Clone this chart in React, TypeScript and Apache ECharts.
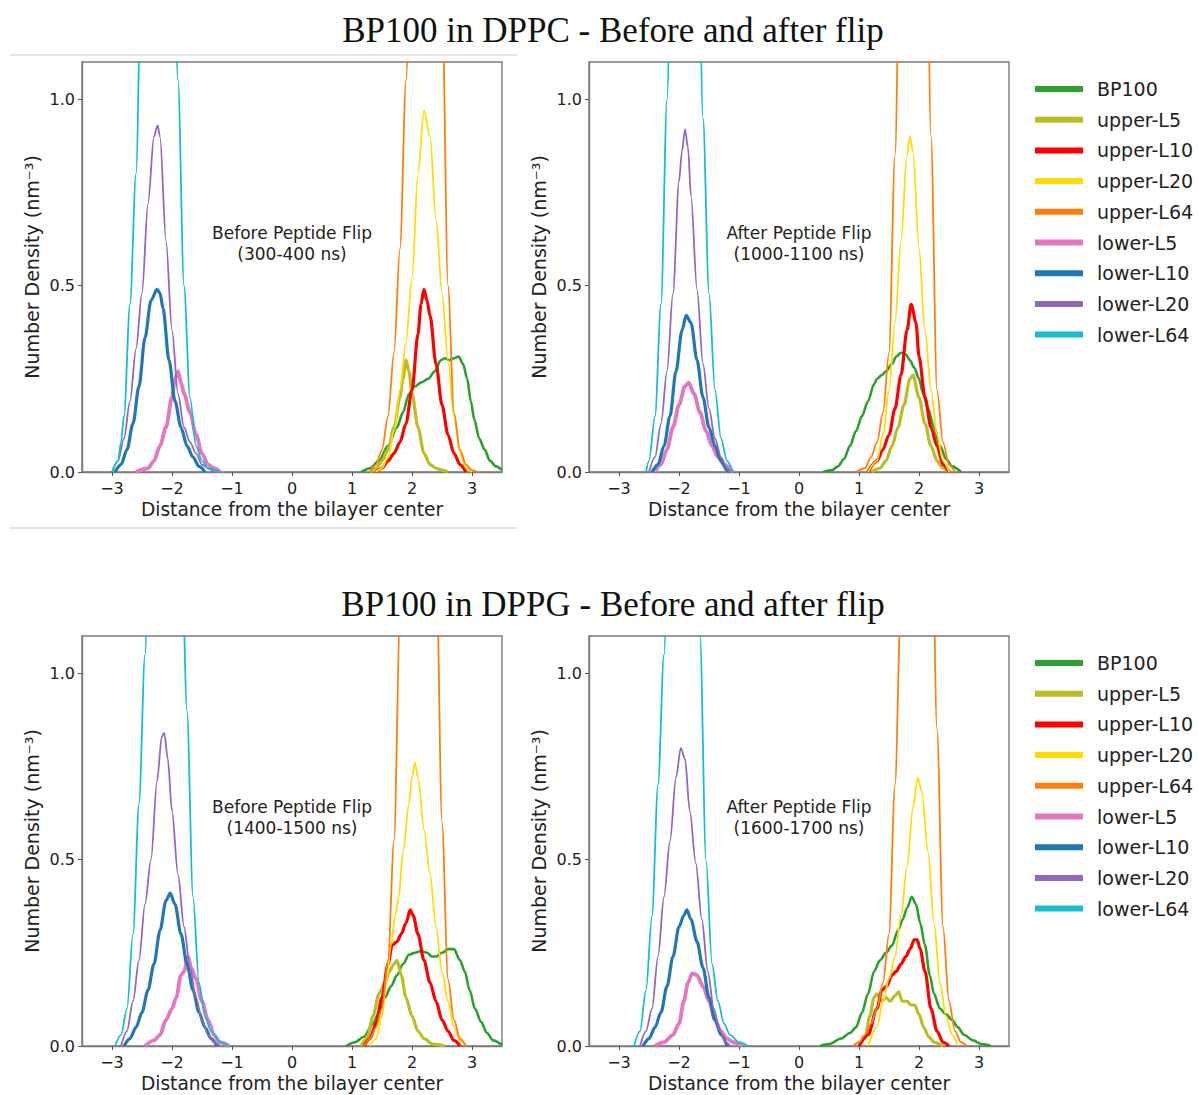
import React, { useEffect, useRef } from "react";
import * as echarts from "echarts";

const SERIES_NAMES = ["BP100", "upper-L5", "upper-L10", "upper-L20", "upper-L64", "lower-L5", "lower-L10", "lower-L20", "lower-L64"];
const SERIES_COLORS = ["#2ca02c", "#bcbd22", "#ff0000", "#ffdd00", "#ff7f0e", "#e377c2", "#1f77b4", "#9467bd", "#17becf"];
const SERIES_WIDTHS = [2.6, 3.2, 3.2, 1.8, 1.8, 3.8, 3.2, 1.8, 1.8];
const X_TICKS = [-3, -2, -1, 0, 1, 2, 3];
const Y_TICKS = [0, 0.5, 1.0];
const ROW_TITLES = ["BP100 in DPPC - Before and after flip", "BP100 in DPPG - Before and after flip"];
const NOTE_LINE1 = ["Before Peptide Flip", "After Peptide Flip", "Before Peptide Flip", "After Peptide Flip"];
const NOTE_LINE2 = ["(300-400 ns)", "(1000-1100 ns)", "(1400-1500 ns)", "(1600-1700 ns)"];

// Panel A: DPPC, before flip
const A_BP100 = [[1.15,0],[1.3,0.01],[1.45,0.03],[1.6,0.07],[1.75,0.12],[1.85,0.16],[1.95,0.21],[2.05,0.23],[2.15,0.24],[2.27,0.25],[2.38,0.27],[2.48,0.3],[2.55,0.305],[2.62,0.3],[2.7,0.305],[2.78,0.31],[2.85,0.29],[2.92,0.25],[2.98,0.19],[3.04,0.14],[3.12,0.09],[3.21,0.06],[3.3,0.03],[3.4,0.015],[3.5,0.005]];
const A_U5 = [[1.3,0],[1.4,0.01],[1.5,0.03],[1.6,0.06],[1.7,0.12],[1.8,0.2],[1.85,0.25],[1.9,0.3],[1.95,0.27],[2.0,0.21],[2.1,0.12],[2.2,0.05],[2.3,0.02],[2.4,0.01],[2.5,0.005],[2.6,0]];
const A_U10 = [[1.4,0],[1.5,0.01],[1.6,0.03],[1.7,0.05],[1.8,0.08],[1.9,0.13],[2.0,0.22],[2.1,0.37],[2.15,0.45],[2.2,0.49],[2.25,0.46],[2.3,0.42],[2.4,0.29],[2.5,0.18],[2.6,0.1],[2.7,0.05],[2.8,0.02],[2.9,0]];
const A_U20 = [[1.4,0],[1.5,0.01],[1.6,0.04],[1.7,0.11],[1.8,0.22],[1.9,0.35],[2.0,0.52],[2.1,0.8],[2.2,0.97],[2.3,0.9],[2.4,0.68],[2.5,0.48],[2.6,0.3],[2.7,0.15],[2.8,0.05],[2.9,0.01],[3.0,0]];
const A_U64 = [[1.3,0],[1.4,0.02],[1.5,0.06],[1.6,0.15],[1.7,0.32],[1.8,0.6],[1.9,1.05],[2.0,1.6],[2.1,2.1],[2.2,2.4],[2.3,2.3],[2.4,1.9],[2.5,1.3],[2.6,0.5],[2.7,0.16],[2.8,0.06],[2.9,0.02],[3.0,0.005],[3.1,0]];
const A_L5 = [[-2.6,0],[-2.4,0.01],[-2.3,0.03],[-2.2,0.07],[-2.1,0.12],[-2.0,0.2],[-1.95,0.25],[-1.9,0.27],[-1.85,0.24],[-1.8,0.21],[-1.7,0.16],[-1.6,0.1],[-1.5,0.05],[-1.4,0.02],[-1.3,0.01],[-1.2,0]];
const A_L10 = [[-2.95,0],[-2.85,0.02],[-2.75,0.06],[-2.65,0.13],[-2.55,0.23],[-2.45,0.36],[-2.35,0.46],[-2.25,0.49],[-2.2,0.48],[-2.15,0.44],[-2.05,0.3],[-1.95,0.19],[-1.85,0.12],[-1.75,0.07],[-1.65,0.04],[-1.55,0.015],[-1.45,0]];
const A_L20 = [[-3.0,0],[-2.9,0.03],[-2.8,0.09],[-2.7,0.19],[-2.6,0.33],[-2.5,0.48],[-2.4,0.72],[-2.3,0.9],[-2.24,0.93],[-2.2,0.9],[-2.1,0.62],[-2.0,0.38],[-1.9,0.21],[-1.8,0.12],[-1.7,0.08],[-1.6,0.05],[-1.5,0.02],[-1.4,0.01],[-1.3,0]];
const A_L64 = [[-3.0,0],[-2.9,0.03],[-2.85,0.08],[-2.8,0.15],[-2.7,0.45],[-2.6,0.8],[-2.5,1.45],[-2.4,2.1],[-2.3,2.5],[-2.2,2.6],[-2.1,2.3],[-2.0,1.7],[-1.9,1.05],[-1.8,0.5],[-1.7,0.2],[-1.6,0.07],[-1.5,0.03],[-1.4,0.01],[-1.2,0]];

// Panel B: DPPC, after flip
const B_BP100 = [[0.4,0],[0.55,0.005],[0.65,0.015],[0.75,0.035],[0.85,0.07],[0.95,0.11],[1.05,0.15],[1.15,0.19],[1.25,0.235],[1.3,0.25],[1.38,0.26],[1.45,0.27],[1.55,0.29],[1.62,0.31],[1.7,0.32],[1.78,0.315],[1.85,0.3],[1.92,0.28],[2.0,0.25],[2.07,0.21],[2.15,0.17],[2.25,0.12],[2.35,0.07],[2.45,0.035],[2.55,0.015],[2.7,0]];
const B_U5 = [[1.2,0],[1.35,0.01],[1.45,0.03],[1.55,0.07],[1.65,0.12],[1.75,0.18],[1.85,0.25],[1.9,0.26],[2.0,0.2],[2.1,0.13],[2.2,0.07],[2.3,0.03],[2.4,0.01],[2.5,0]];
const B_U10 = [[1.15,0],[1.3,0.03],[1.4,0.06],[1.5,0.1],[1.6,0.17],[1.7,0.26],[1.8,0.38],[1.87,0.45],[1.95,0.4],[2.0,0.31],[2.1,0.2],[2.2,0.12],[2.3,0.07],[2.4,0.02],[2.5,0]];
const B_U20 = [[1.15,0],[1.3,0.03],[1.4,0.1],[1.5,0.22],[1.6,0.4],[1.7,0.62],[1.8,0.85],[1.85,0.9],[1.9,0.86],[2.0,0.6],[2.1,0.38],[2.2,0.22],[2.3,0.1],[2.4,0.03],[2.5,0]];
const B_U64 = [[0.95,0],[1.1,0.01],[1.2,0.04],[1.3,0.08],[1.4,0.16],[1.5,0.32],[1.6,0.85],[1.7,1.6],[1.8,2.2],[1.9,2.5],[2.0,2.4],[2.1,1.9],[2.2,0.9],[2.3,0.22],[2.4,0.08],[2.5,0.02],[2.6,0]];
const B_L5 = [[-2.4,0],[-2.3,0.02],[-2.2,0.06],[-2.1,0.12],[-2.0,0.18],[-1.9,0.23],[-1.84,0.24],[-1.75,0.21],[-1.65,0.16],[-1.55,0.11],[-1.45,0.07],[-1.35,0.04],[-1.25,0.02],[-1.1,0]];
const B_L10 = [[-2.45,0],[-2.35,0.02],[-2.25,0.07],[-2.15,0.15],[-2.05,0.27],[-1.95,0.38],[-1.88,0.42],[-1.8,0.4],[-1.7,0.3],[-1.6,0.2],[-1.5,0.12],[-1.4,0.07],[-1.3,0.03],[-1.2,0.005],[-1.15,0]];
const B_L20 = [[-2.5,0],[-2.4,0.04],[-2.3,0.13],[-2.2,0.27],[-2.1,0.48],[-2.0,0.78],[-1.95,0.86],[-1.9,0.92],[-1.85,0.87],[-1.8,0.74],[-1.7,0.49],[-1.6,0.29],[-1.5,0.17],[-1.4,0.09],[-1.3,0.04],[-1.2,0.01],[-1.15,0]];
const B_L64 = [[-2.55,0],[-2.5,0.03],[-2.4,0.15],[-2.3,0.45],[-2.2,1.0],[-2.1,1.7],[-2.0,2.3],[-1.9,2.6],[-1.8,2.4],[-1.7,1.7],[-1.6,0.95],[-1.5,0.48],[-1.4,0.22],[-1.3,0.09],[-1.2,0.03],[-1.1,0]];

// Panel C: DPPG, before flip
const C_BP100 = [[0.9,0],[1.05,0.01],[1.2,0.025],[1.35,0.06],[1.45,0.09],[1.55,0.13],[1.65,0.16],[1.75,0.19],[1.85,0.22],[1.95,0.245],[2.05,0.25],[2.15,0.255],[2.25,0.25],[2.33,0.24],[2.4,0.24],[2.5,0.25],[2.6,0.26],[2.7,0.26],[2.8,0.23],[2.88,0.2],[2.96,0.15],[3.05,0.1],[3.15,0.065],[3.25,0.035],[3.35,0.015],[3.5,0.003]];
const C_U5 = [[1.15,0],[1.25,0.02],[1.35,0.08],[1.45,0.14],[1.55,0.17],[1.62,0.2],[1.7,0.22],[1.75,0.23],[1.82,0.19],[1.9,0.13],[2.0,0.08],[2.1,0.04],[2.2,0.02],[2.35,0.005],[2.55,0]];
const C_U10 = [[1.2,0],[1.3,0.02],[1.4,0.06],[1.5,0.13],[1.6,0.22],[1.67,0.27],[1.75,0.28],[1.82,0.3],[1.9,0.33],[1.97,0.365],[2.02,0.35],[2.1,0.3],[2.2,0.23],[2.3,0.17],[2.4,0.12],[2.5,0.07],[2.6,0.04],[2.7,0.015],[2.8,0]];
const C_U20 = [[1.3,0],[1.4,0.02],[1.5,0.08],[1.57,0.17],[1.65,0.27],[1.72,0.35],[1.78,0.4],[1.85,0.52],[1.95,0.65],[2.0,0.72],[2.05,0.76],[2.1,0.72],[2.2,0.58],[2.3,0.46],[2.4,0.32],[2.5,0.2],[2.6,0.12],[2.7,0.05],[2.8,0.015],[2.9,0]];
const C_U64 = [[1.2,0],[1.3,0.02],[1.4,0.05],[1.5,0.1],[1.6,0.23],[1.7,0.55],[1.8,1.15],[1.9,1.75],[2.0,2.2],[2.1,2.4],[2.2,2.3],[2.3,1.9],[2.4,1.35],[2.5,0.6],[2.6,0.18],[2.7,0.07],[2.8,0.02],[2.9,0]];
const C_L5 = [[-2.45,0],[-2.3,0.015],[-2.2,0.03],[-2.1,0.07],[-2.0,0.1],[-1.93,0.13],[-1.85,0.19],[-1.8,0.2],[-1.73,0.24],[-1.68,0.21],[-1.6,0.18],[-1.5,0.12],[-1.4,0.07],[-1.3,0.03],[-1.2,0.01],[-1.05,0]];
const C_L10 = [[-2.8,0],[-2.7,0.02],[-2.6,0.05],[-2.5,0.09],[-2.4,0.15],[-2.3,0.22],[-2.2,0.31],[-2.1,0.39],[-2.03,0.41],[-1.95,0.38],[-1.85,0.3],[-1.75,0.22],[-1.65,0.15],[-1.55,0.09],[-1.45,0.05],[-1.35,0.02],[-1.25,0]];
const C_L20 = [[-2.85,0],[-2.75,0.04],[-2.65,0.12],[-2.55,0.23],[-2.45,0.38],[-2.35,0.5],[-2.25,0.71],[-2.17,0.83],[-2.13,0.84],[-2.07,0.77],[-2.0,0.63],[-1.9,0.46],[-1.8,0.32],[-1.7,0.21],[-1.6,0.13],[-1.5,0.07],[-1.4,0.03],[-1.3,0.01],[-1.2,0]];
const C_L64 = [[-2.95,0],[-2.85,0.03],[-2.75,0.1],[-2.65,0.3],[-2.55,0.65],[-2.45,1.05],[-2.35,1.6],[-2.25,2.1],[-2.15,2.4],[-2.05,2.3],[-1.95,1.9],[-1.85,1.4],[-1.75,0.9],[-1.65,0.4],[-1.55,0.17],[-1.45,0.08],[-1.35,0.04],[-1.2,0.01],[-1.05,0]];

// Panel D: DPPG, after flip
const D_BP100 = [[0.35,0],[0.5,0.005],[0.7,0.02],[0.85,0.035],[0.95,0.05],[1.05,0.09],[1.15,0.14],[1.25,0.2],[1.35,0.23],[1.45,0.25],[1.55,0.27],[1.65,0.31],[1.73,0.34],[1.8,0.37],[1.88,0.4],[1.95,0.38],[2.02,0.33],[2.1,0.27],[2.18,0.19],[2.25,0.14],[2.35,0.1],[2.45,0.085],[2.55,0.07],[2.65,0.05],[2.75,0.03],[2.9,0.015],[3.05,0.005],[3.2,0]];
const D_U5 = [[1.0,0],[1.1,0.02],[1.18,0.08],[1.25,0.13],[1.3,0.14],[1.38,0.12],[1.45,0.13],[1.52,0.12],[1.6,0.135],[1.66,0.145],[1.72,0.12],[1.8,0.12],[1.87,0.11],[1.93,0.11],[2.0,0.085],[2.08,0.05],[2.16,0.025],[2.25,0.01],[2.4,0]];
const D_U10 = [[1.0,0],[1.15,0.03],[1.3,0.1],[1.38,0.15],[1.46,0.16],[1.55,0.19],[1.62,0.2],[1.7,0.22],[1.78,0.24],[1.85,0.26],[1.92,0.285],[1.97,0.285],[2.02,0.26],[2.1,0.2],[2.2,0.1],[2.3,0.04],[2.4,0.01],[2.5,0]];
const D_U20 = [[1.15,0],[1.3,0.05],[1.4,0.12],[1.5,0.18],[1.6,0.24],[1.7,0.35],[1.8,0.48],[1.9,0.64],[1.98,0.72],[2.05,0.68],[2.15,0.52],[2.25,0.33],[2.35,0.17],[2.45,0.08],[2.55,0.03],[2.65,0]];
const D_U64 = [[0.9,0],[1.0,0.01],[1.1,0.03],[1.2,0.06],[1.3,0.1],[1.4,0.17],[1.5,0.3],[1.6,0.7],[1.7,1.2],[1.8,1.8],[1.9,2.3],[2.0,2.5],[2.1,2.3],[2.2,1.6],[2.3,0.85],[2.4,0.32],[2.5,0.12],[2.6,0.04],[2.7,0.01],[2.8,0]];
const D_L5 = [[-2.4,0],[-2.25,0.01],[-2.1,0.03],[-2.0,0.06],[-1.92,0.12],[-1.85,0.17],[-1.78,0.195],[-1.7,0.19],[-1.6,0.16],[-1.5,0.12],[-1.4,0.07],[-1.3,0.04],[-1.2,0.02],[-1.1,0.01],[-0.95,0]];
const D_L10 = [[-2.6,0],[-2.5,0.02],[-2.4,0.05],[-2.3,0.09],[-2.2,0.16],[-2.1,0.24],[-2.0,0.32],[-1.92,0.35],[-1.87,0.365],[-1.8,0.34],[-1.7,0.28],[-1.6,0.21],[-1.5,0.13],[-1.4,0.07],[-1.3,0.03],[-1.2,0]];
const D_L20 = [[-2.65,0],[-2.55,0.04],[-2.45,0.1],[-2.35,0.24],[-2.25,0.4],[-2.15,0.55],[-2.05,0.72],[-1.97,0.8],[-1.9,0.77],[-1.82,0.63],[-1.72,0.49],[-1.62,0.34],[-1.52,0.2],[-1.42,0.1],[-1.32,0.04],[-1.22,0.01],[-1.15,0]];
const D_L64 = [[-2.75,0],[-2.65,0.04],[-2.55,0.15],[-2.45,0.35],[-2.35,0.7],[-2.25,1.05],[-2.15,1.6],[-2.05,2.1],[-1.95,2.4],[-1.85,2.3],[-1.75,1.8],[-1.65,1.1],[-1.55,0.5],[-1.45,0.22],[-1.35,0.12],[-1.25,0.06],[-1.15,0.03],[-1.0,0.01],[-0.85,0]];

const PANEL_DATA = [
  [A_BP100, A_U5, A_U10, A_U20, A_U64, A_L5, A_L10, A_L20, A_L64],
  [B_BP100, B_U5, B_U10, B_U20, B_U64, B_L5, B_L10, B_L20, B_L64],
  [C_BP100, C_U5, C_U10, C_U20, C_U64, C_L5, C_L10, C_L20, C_L64],
  [D_BP100, D_U5, D_U10, D_U20, D_U64, D_L5, D_L10, D_L20, D_L64],
];

const SANS = "DejaVu Sans";
const SERIF = "Liberation Serif";
const GRID_POS = [
  { left: 82, top: 62 },
  { left: 589, top: 62 },
  { left: 82, top: 636 },
  { left: 589, top: 636 },
];
const GRID_W = 420;
const GRID_H = 410;

function fmtX(v: number) {
  return v < 0 ? "\u2212" + Math.abs(v) : String(v);
}

export default function App() {
  const ref = useRef<HTMLDivElement>(null);
  useEffect(() => {
    if (!ref.current) return;
    const chart = echarts.init(ref.current, undefined, { renderer: "svg" });

    const grid = GRID_POS.map((g) => ({
      left: g.left,
      top: g.top,
      width: GRID_W,
      height: GRID_H,
      show: true,
      borderColor: "#7a7a7a",
      borderWidth: 1.4,
      backgroundColor: "transparent",
    }));

    const xAxis = GRID_POS.map((_, i) => ({
      type: "value",
      gridIndex: i,
      min: -3.5,
      max: 3.5,
      name: "Distance from the bilayer center",
      nameLocation: "middle",
      nameGap: 28,
      nameTextStyle: { fontFamily: SANS, fontSize: 18.6, color: "#222" },
      axisLine: { show: true, onZero: false, lineStyle: { color: "#7a7a7a", width: 1.4 } },
      axisTick: { show: true, length: 4, customValues: X_TICKS, lineStyle: { color: "#555" } },
      axisLabel: {
        customValues: X_TICKS,
        margin: 8,
        fontFamily: SANS,
        fontSize: 16,
        color: "#222",
        formatter: (v: number) => fmtX(v),
      },
      splitLine: { show: false },
    }));

    const yAxis = GRID_POS.map((_, i) => ({
      type: "value",
      gridIndex: i,
      min: 0,
      max: 1.1,
      name: "Number Density (nm\u207B\u00B3)",
      nameLocation: "middle",
      nameGap: 41,
      nameTextStyle: { fontFamily: SANS, fontSize: 19, color: "#222" },
      axisLine: { show: true, onZero: false, lineStyle: { color: "#7a7a7a", width: 1.4 } },
      axisTick: { show: true, length: 4, customValues: Y_TICKS, lineStyle: { color: "#555" } },
      axisLabel: {
        customValues: Y_TICKS,
        margin: 7,
        fontFamily: SANS,
        fontSize: 16,
        color: "#222",
        formatter: (v: number) => v.toFixed(1),
      },
      splitLine: { show: false },
    }));

    const series: any[] = [];
    PANEL_DATA.forEach((panel, p) => {
      panel.forEach((pts, s) => {
        series.push({
          type: "line",
          name: SERIES_NAMES[s],
          xAxisIndex: p,
          yAxisIndex: p,
          data: pts,
          showSymbol: false,
          symbol: "none",
          smooth: 0.3,
          smoothMonotone: "x",
          clip: true,
          lineStyle: { color: SERIES_COLORS[s], width: SERIES_WIDTHS[s] },
          itemStyle: { color: SERIES_COLORS[s] },
          emphasis: { disabled: true },
          z: 2 + s,
        });
      });
    });

    const legend = [79, 653].map((top) => ({
      orient: "vertical",
      left: 1035,
      top,
      padding: 0,
      icon: "rect",
      itemWidth: 48,
      itemHeight: 6,
      itemGap: 10.7,
      selectedMode: false,
      data: SERIES_NAMES,
      textStyle: { fontFamily: SANS, fontSize: 19, color: "#222", lineHeight: 20, padding: [0, 0, 0, 9] },
    }));

    const graphic: any[] = [];
    ROW_TITLES.forEach((t, r) => {
      graphic.push({
        type: "text",
        x: 613,
        y: r === 0 ? 30 : 604,
        style: {
          text: t,
          fontFamily: SERIF,
          fontSize: 35,
          fill: "#111",
          textAlign: "center",
          textVerticalAlign: "middle",
        },
      });
    });
    // separators
    [55, 528].forEach((y) => {
      graphic.push({
        type: "line",
        shape: { x1: 10, y1: y, x2: 517, y2: y },
        style: { stroke: "#cccccc", lineWidth: 1.2 },
      });
    });
    GRID_POS.forEach((g, i) => {
      const cx = g.left + GRID_W / 2;
      graphic.push({
        type: "text",
        x: cx,
        y: g.top + 171,
        style: {
          text: NOTE_LINE1[i],
          fontFamily: SANS,
          fontSize: 17,
          fill: "#222",
          textAlign: "center",
          textVerticalAlign: "middle",
        },
      });
      graphic.push({
        type: "text",
        x: cx,
        y: g.top + 192,
        style: {
          text: NOTE_LINE2[i],
          fontFamily: SANS,
          fontSize: 17,
          fill: "#222",
          textAlign: "center",
          textVerticalAlign: "middle",
        },
      });
    });

    chart.setOption({
      animation: false,
      backgroundColor: "#ffffff",
      grid,
      xAxis,
      yAxis,
      series,
      legend,
      graphic,
    });
    return () => chart.dispose();
  }, []);

  return (
    <div
      ref={ref}
      style={{ position: "absolute", left: 0, top: 0, width: 1198, height: 1095 }}
    />
  );
}
